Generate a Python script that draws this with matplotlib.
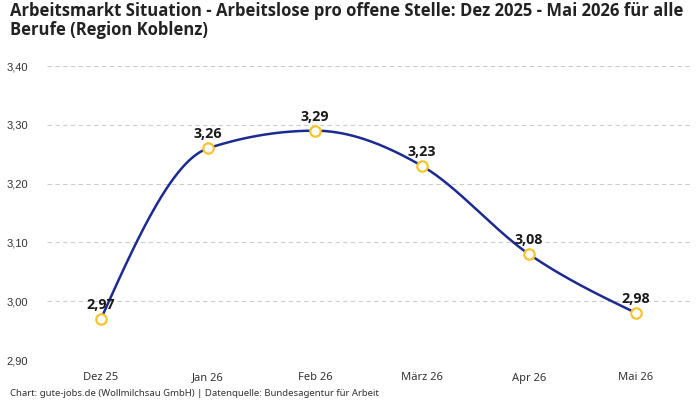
import matplotlib
matplotlib.use("Agg")
import matplotlib.pyplot as plt
import numpy as np

categories = ["Dez 25", "Jan 26", "Feb 26", "März 26", "Apr 26", "Mai 26"]
values = [2.97, 3.26, 3.29, 3.23, 3.08, 2.98]
y_ticks = [2.90, 3.00, 3.10, 3.20, 3.30, 3.40]

title = "Arbeitsmarkt Situation - Arbeitslose pro offene Stelle: Dez 2025 - Mai 2026 für alle\nBerufe (Region Koblenz)"
footer = "Chart: gute-jobs.de (Wollmilchsau GmbH) | Datenquelle: Bundesagentur für Arbeit"


def monotone_x(x, y, n=40):
    x = np.asarray(x, float); y = np.asarray(y, float)
    h = np.diff(x); s = np.diff(y) / h
    m = np.zeros_like(y)
    for i in range(1, len(y) - 1):
        s0, s1 = s[i - 1], s[i]
        p = (s0 * h[i] + s1 * h[i - 1]) / (h[i - 1] + h[i])
        m[i] = (np.sign(s0) + np.sign(s1)) * min(abs(s0), abs(s1), 0.5 * abs(p))
    m[0] = (3 * s[0] - m[1]) / 2
    m[-1] = (3 * s[-1] - m[-2]) / 2
    xs, ys = [], []
    for i in range(len(h)):
        t = np.linspace(0, 1, n)
        h00 = 2 * t**3 - 3 * t**2 + 1
        h10 = t**3 - 2 * t**2 + t
        h01 = -2 * t**3 + 3 * t**2
        h11 = t**3 - t**2
        xs.append(x[i] + t * h[i])
        ys.append(h00 * y[i] + h10 * h[i] * m[i] + h01 * y[i + 1] + h11 * h[i] * m[i + 1])
    return np.concatenate(xs), np.concatenate(ys)


plt.rcParams['font.family'] = ['Noto Sans', 'DejaVu Sans']
BOLD = ['Open Sans', 'DejaVu Sans']

fig = plt.figure(figsize=(7, 4), dpi=100)
ax = fig.add_axes([47.5 / 700, 1 - 360 / 400, 642 / 700, 294 / 400])

xpos = np.arange(len(categories))
sx, sy = monotone_x(xpos, values)
ax.plot(sx, sy, color="#1c2b8f", lw=1.8, zorder=3, clip_on=False)
ax.plot(xpos, values, linestyle="none", marker="o", ms=7.5, mfc="white",
        mec="#f7c52b", mew=1.6, zorder=4, clip_on=False)

for xi, v in zip(xpos, values):
    ax.annotate(f"{v:.2f}".replace(".", ","), (xi, v), xytext=(0, 5),
                textcoords="offset points", ha="center", va="bottom",
                fontsize=10.3, fontweight="bold", family=BOLD, color="#1a1a1a", zorder=5)

ax.set_xlim(-0.5, len(categories) - 0.5)
ax.set_ylim(2.90, 3.40)
ax.set_xticks(xpos)
ax.set_xticklabels(categories, fontsize=8, color="#333333")
ax.set_yticks(y_ticks)
ax.set_yticklabels([f"{t:.2f}".replace(".", ",") for t in y_ticks], fontsize=8,
                   color="#333333", family="Liberation Sans")
ax.tick_params(axis="both", length=0)
ax.tick_params(axis="y", pad=14)
ax.tick_params(axis="x", pad=9)
for sp in ax.spines.values():
    sp.set_visible(False)
ax.grid(axis="y", color="#cccccc", linestyle=(0, (4, 3)), lw=0.8)
ax.set_axisbelow(True)

fig.text(10 / 700, 1 - 2 / 400, title, ha="left", va="top", fontsize=12,
         fontweight="bold", family=BOLD, color="#222222", linespacing=1.05)
fig.text(10 / 700, 1 - 393 / 400, footer, ha="left", va="center", fontsize=6.9,
         color="#333333")

fig.savefig("out.png", dpi=100)
